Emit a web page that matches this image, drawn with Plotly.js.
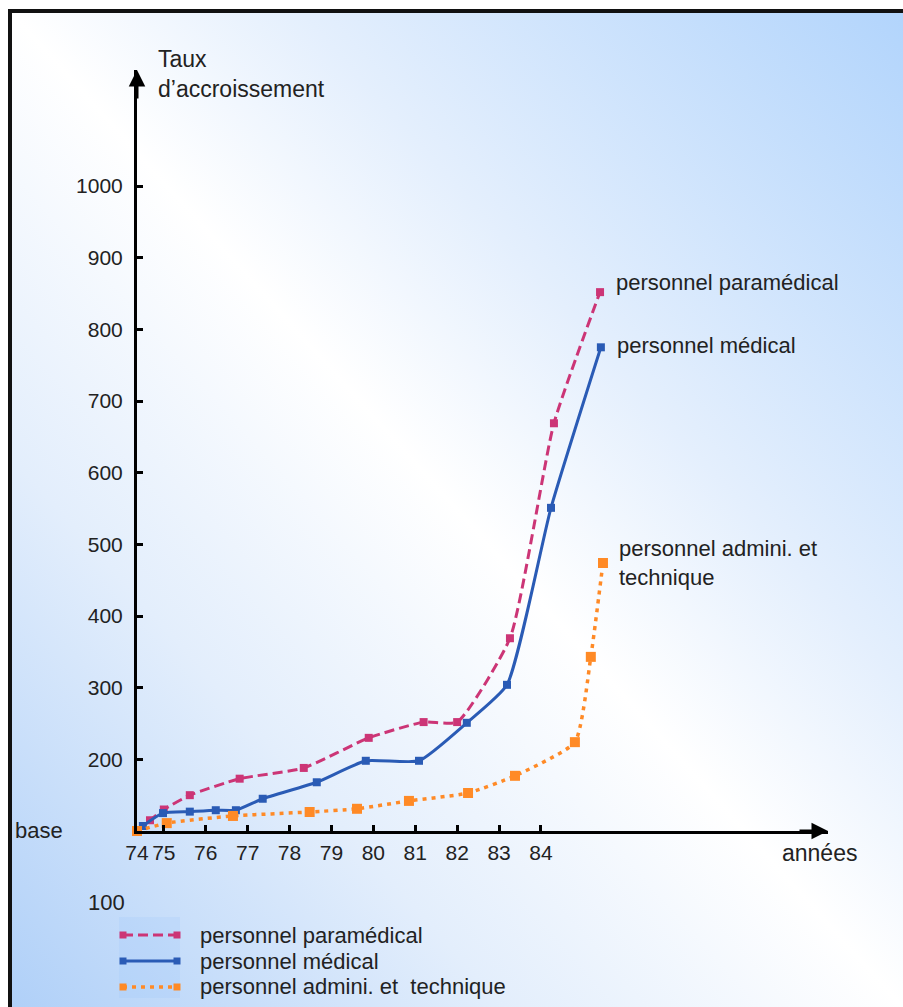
<!DOCTYPE html>
<html>
<head>
<meta charset="utf-8">
<script src="https://cdn.plot.ly/plotly-3.0.1.min.js"></script>
<style>
  html, body { margin:0; padding:0; width:903px; height:1007px; overflow:hidden; background:#ffffff; }
  #frame { position:absolute; left:8px; top:9px; width:905px; height:1010px;
    border-left:4px solid #111; border-top:4px solid #111;
    background: linear-gradient(to top right, #aecff8 0%, #e3eefc 28%, #ffffff 50%, #e4effd 66%, #b1d4fc 100%); }
  #chart { position:absolute; left:0; top:0; width:903px; height:1007px; }
</style>
</head>
<body>
<div id="frame"></div>
<div id="chart"></div>
<script>
// ---- data ----
const seriesNames = ['personnel paramédical', 'personnel médical', 'personnel admini. et  technique'];
const endLabels = ['personnel paramédical', 'personnel médical', 'personnel admini. et<br>technique'];
const seriesColors = ['#cc3576', '#2a5bb5', '#ff8a26'];

const paramedX = [74.36, 74.67, 75.0, 75.62, 76.81, 78.34, 79.89, 81.2, 82.0, 83.26, 84.31, 85.41];
const paramedY = [100, 115, 130, 150, 173, 188, 230, 252, 252, 369, 669, 852];

const medicalX = [74.36, 74.5, 74.98, 75.62, 76.24, 76.72, 77.36, 78.65, 79.82, 81.09, 82.23, 83.19, 84.24, 85.43];
const medicalY = [100, 107, 125, 127, 129, 129, 145, 168, 198, 198, 251, 304, 551, 775];

const adminX = [74.36, 75.07, 76.65, 78.48, 79.61, 80.85, 82.26, 83.38, 84.81, 85.19, 85.48];
const adminY = [100, 111, 121, 126.5, 131, 142, 153, 177, 224, 343, 474];

const xTickVals = [74.36, 75, 76, 77, 78, 79, 80, 81, 82, 83, 84];
const xTickText = ['74', '75', '76', '77', '78', '79', '80', '81', '82', '83', '84'];
const yTickVals = [200, 300, 400, 500, 600, 700, 800, 900, 1000];
const yTickText = ['200', '300', '400', '500', '600', '700', '800', '900', '1000'];

const X0 = 74.36, X1 = 90.85, Y0 = 100, Y1 = 1162;

// ---- layout helpers (pixels -> paper) ----
const W = 903, H = 1007, ML = 137, MR = 75, MT = 70, MB = 176;
const PW = W - ML - MR, PH = H - MT - MB;
const px = v => (v - ML) / PW;
const py = v => (H - MB - v) / PH;

const dashes = ['10px,5px', 'solid', '4px,5px'];
const widths = [3, 3, 3.5];
const msizes = [8, 8, 10];
const xs = [paramedX, medicalX, adminX];
const ys = [paramedY, medicalY, adminY];

const traces = xs.map((x, i) => ({
  type: 'scatter', mode: 'lines+markers', name: seriesNames[i],
  x: x, y: ys[i],
  line: { color: seriesColors[i], width: widths[i], dash: dashes[i], shape: 'spline', smoothing: 0.5 },
  marker: { symbol: 'square', size: msizes[i], color: seriesColors[i] },
  showlegend: false, cliponaxis: false
}));

const font = { family: 'Liberation Sans, Arial, sans-serif', color: '#222' };
const F = s => Object.assign({ size: s }, font);

const annotations = [];
// end labels
const yShifts = [10, 2, 0];
xs.forEach((x, i) => {
  annotations.push({
    x: x[x.length - 1], y: ys[i][ys[i].length - 1], xref: 'x', yref: 'y',
    text: endLabels[i], showarrow: false, xanchor: 'left', yanchor: 'middle', align: 'left',
    xshift: 14, yshift: yShifts[i], font: F(22)
  });
});
// axis arrows
annotations.push({ x: X1, y: Y0, xref: 'x', yref: 'y', ax: -30, ay: 0, text: '', showarrow: true,
  arrowhead: 2, arrowsize: 1.1, arrowwidth: 3, arrowcolor: '#000' });
annotations.push({ x: X0, y: Y1, xref: 'x', yref: 'y', ax: 0, ay: 30, text: '', showarrow: true,
  arrowhead: 2, arrowsize: 1.1, arrowwidth: 3, arrowcolor: '#000' });
// texts
annotations.push({ x: px(156), y: py(44), xref: 'paper', yref: 'paper', xanchor: 'left', yanchor: 'top',
  align: 'left', showarrow: false, text: 'Taux<br>d\u2019accroissement', font: F(23) });
annotations.push({ x: px(13), y: py(830), xref: 'paper', yref: 'paper', xanchor: 'left', yanchor: 'middle',
  showarrow: false, text: 'base', font: F(22) });
annotations.push({ x: px(780), y: py(853), xref: 'paper', yref: 'paper', xanchor: 'left', yanchor: 'middle',
  showarrow: false, text: 'années', font: F(23) });
annotations.push({ x: px(86), y: py(903), xref: 'paper', yref: 'paper', xanchor: 'left', yanchor: 'middle',
  showarrow: false, text: '100', font: F(22) });

// manual legend
const shapes = [];
shapes.push({ type: 'rect', xref: 'paper', yref: 'paper', x0: px(119), x1: px(180), y0: py(917), y1: py(998),
  fillcolor: 'rgba(150,195,250,0.18)', line: { width: 0 }, layer: 'below' });
const legRows = [935, 961, 987];
seriesNames.forEach((n, i) => {
  const yy = py(legRows[i]);
  shapes.push({ type: 'line', xref: 'paper', yref: 'paper', x0: px(123), x1: px(178), y0: yy, y1: yy,
    line: { color: seriesColors[i], width: widths[i], dash: dashes[i] } });
  [123, 177].forEach(cx => {
    shapes.push({ type: 'rect', xref: 'paper', yref: 'paper', x0: px(cx - 3.5), x1: px(cx + 3.5),
      y0: py(legRows[i] - 3.5), y1: py(legRows[i] + 3.5), fillcolor: seriesColors[i], line: { width: 0 } });
  });
  annotations.push({ x: px(198), y: yy, xref: 'paper', yref: 'paper', xanchor: 'left', yanchor: 'middle',
    showarrow: false, text: n, font: F(22) });
});

const layout = {
  width: W, height: H,
  margin: { l: ML, r: MR, t: MT, b: MB, pad: 0 },
  paper_bgcolor: 'rgba(0,0,0,0)', plot_bgcolor: 'rgba(0,0,0,0)',
  font: font,
  showlegend: false,
  xaxis: {
    range: [X0, X1], showgrid: false, zeroline: false,
    showline: true, linecolor: '#000', linewidth: 3,
    tickvals: xTickVals, ticktext: xTickText,
    ticks: 'inside', ticklen: 6, tickwidth: 3, tickcolor: '#000',
    ticklabelstandoff: 1,
    tickfont: F(21)
  },
  yaxis: {
    range: [Y0, Y1], showgrid: false, zeroline: false,
    showline: true, linecolor: '#000', linewidth: 3,
    tickvals: yTickVals, ticktext: yTickText,
    ticks: 'inside', ticklen: 6, tickwidth: 3, tickcolor: '#000',
    ticklabelstandoff: 7,
    tickfont: F(21)
  },
  annotations: annotations,
  shapes: shapes
};

Plotly.newPlot('chart', traces, layout, { displayModeBar: false, staticPlot: true });
</script>
</body>
</html>
